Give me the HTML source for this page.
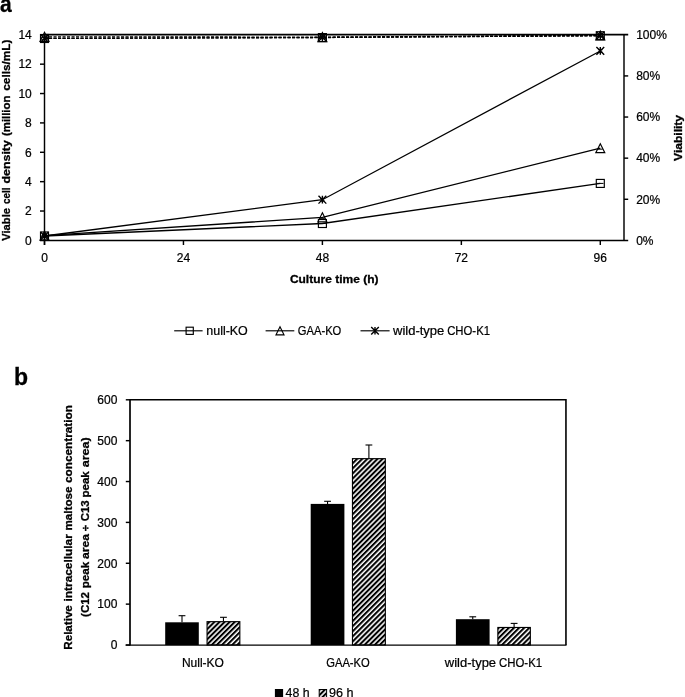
<!DOCTYPE html>
<html lang="en"><head><meta charset="utf-8"><title>Figure</title>
<style>html,body{margin:0;padding:0;background:#fff}body{width:685px;height:697px;overflow:hidden}svg{display:block}text{font-family:"Liberation Sans", "DejaVu Sans", sans-serif;fill:#000;stroke:#000;stroke-width:.22px}text[font-weight=bold]{stroke-width:.3px}</style></head><body>
<svg width="685" height="697" viewBox="0 0 685 697">
<rect width="685" height="697" fill="#fff"/>
<defs><pattern id="h" width="3.6" height="3.6" patternUnits="userSpaceOnUse" patternTransform="rotate(-45)"><rect width="3.6" height="3.6" fill="#fff"/><rect width="3.6" height="2.05" fill="#000"/></pattern></defs>
<text x="0.10" y="12.45" font-size="23" text-anchor="start" font-weight="bold" textLength="11.70" lengthAdjust="spacingAndGlyphs" >a</text>
<text x="14.00" y="384.60" font-size="23" text-anchor="start" font-weight="bold" >b</text>
<line x1="44.50" y1="34.20" x2="44.50" y2="245.00" stroke="#000" stroke-width="1.45" />
<line x1="624.00" y1="34.20" x2="624.00" y2="241.00" stroke="#000" stroke-width="1.45" />
<line x1="40.00" y1="240.40" x2="628.20" y2="240.40" stroke="#000" stroke-width="1.45" />
<line x1="44.50" y1="34.60" x2="628.20" y2="34.60" stroke="#000" stroke-width="1.6" />
<text x="31.80" y="244.70" font-size="12" text-anchor="end" font-weight="normal" >0</text>
<line x1="40.00" y1="211.03" x2="44.50" y2="211.03" stroke="#000" stroke-width="1.45" />
<text x="31.80" y="215.33" font-size="12" text-anchor="end" font-weight="normal" >2</text>
<line x1="40.00" y1="181.66" x2="44.50" y2="181.66" stroke="#000" stroke-width="1.45" />
<text x="31.80" y="185.96" font-size="12" text-anchor="end" font-weight="normal" >4</text>
<line x1="40.00" y1="152.29" x2="44.50" y2="152.29" stroke="#000" stroke-width="1.45" />
<text x="31.80" y="156.59" font-size="12" text-anchor="end" font-weight="normal" >6</text>
<line x1="40.00" y1="122.91" x2="44.50" y2="122.91" stroke="#000" stroke-width="1.45" />
<text x="31.80" y="127.21" font-size="12" text-anchor="end" font-weight="normal" >8</text>
<line x1="40.00" y1="93.54" x2="44.50" y2="93.54" stroke="#000" stroke-width="1.45" />
<text x="31.80" y="97.84" font-size="12" text-anchor="end" font-weight="normal" >10</text>
<line x1="40.00" y1="64.17" x2="44.50" y2="64.17" stroke="#000" stroke-width="1.45" />
<text x="31.80" y="68.47" font-size="12" text-anchor="end" font-weight="normal" >12</text>
<text x="31.80" y="39.10" font-size="12" text-anchor="end" font-weight="normal" >14</text>
<line x1="40.00" y1="34.80" x2="44.50" y2="34.80" stroke="#000" stroke-width="1.45" />
<text x="636.20" y="244.70" font-size="12" text-anchor="start" font-weight="normal" >0%</text>
<line x1="624.00" y1="199.28" x2="628.20" y2="199.28" stroke="#000" stroke-width="1.45" />
<text x="636.20" y="203.58" font-size="12" text-anchor="start" font-weight="normal" >20%</text>
<line x1="624.00" y1="158.16" x2="628.20" y2="158.16" stroke="#000" stroke-width="1.45" />
<text x="636.20" y="162.46" font-size="12" text-anchor="start" font-weight="normal" >40%</text>
<line x1="624.00" y1="117.04" x2="628.20" y2="117.04" stroke="#000" stroke-width="1.45" />
<text x="636.20" y="121.34" font-size="12" text-anchor="start" font-weight="normal" >60%</text>
<line x1="624.00" y1="75.92" x2="628.20" y2="75.92" stroke="#000" stroke-width="1.45" />
<text x="636.20" y="80.22" font-size="12" text-anchor="start" font-weight="normal" >80%</text>
<text x="636.20" y="39.10" font-size="12" text-anchor="start" font-weight="normal" >100%</text>
<line x1="44.50" y1="240.40" x2="44.50" y2="245.00" stroke="#000" stroke-width="1.45" />
<text x="44.50" y="262.20" font-size="12" text-anchor="middle" font-weight="normal" >0</text>
<line x1="183.45" y1="240.40" x2="183.45" y2="245.00" stroke="#000" stroke-width="1.45" />
<text x="183.45" y="262.20" font-size="12" text-anchor="middle" font-weight="normal" >24</text>
<line x1="322.40" y1="240.40" x2="322.40" y2="245.00" stroke="#000" stroke-width="1.45" />
<text x="322.40" y="262.20" font-size="12" text-anchor="middle" font-weight="normal" >48</text>
<line x1="461.35" y1="240.40" x2="461.35" y2="245.00" stroke="#000" stroke-width="1.45" />
<text x="461.35" y="262.20" font-size="12" text-anchor="middle" font-weight="normal" >72</text>
<line x1="600.30" y1="240.40" x2="600.30" y2="245.00" stroke="#000" stroke-width="1.45" />
<text x="600.30" y="262.20" font-size="12" text-anchor="middle" font-weight="normal" >96</text>
<text x="334.20" y="283.00" font-size="11.4" text-anchor="middle" font-weight="bold" textLength="88.60" lengthAdjust="spacingAndGlyphs" >Culture time (h)</text>
<text transform="translate(10.00 240.40) rotate(-90)" y="0" font-size="11.4" font-weight="bold"><tspan x="-0.35" textLength="32.70" lengthAdjust="spacingAndGlyphs">Viable</tspan> <tspan x="36.35" textLength="16.50" lengthAdjust="spacingAndGlyphs">cell</tspan> <tspan x="56.95" textLength="43.30" lengthAdjust="spacingAndGlyphs">density</tspan> <tspan x="104.45" textLength="40.30" lengthAdjust="spacingAndGlyphs">(million</tspan> <tspan x="149.65" textLength="51.30" lengthAdjust="spacingAndGlyphs">cells/mL)</tspan></text>
<text x="682.20" y="137.90" font-size="11.4" text-anchor="middle" font-weight="bold" textLength="46.00" lengthAdjust="spacingAndGlyphs" transform="rotate(-90 682.20 137.90)" >Viability</text>
<polyline points="44.50,38.50 322.40,37.58 600.30,35.73" fill="none" stroke="#000" stroke-width="1.25" stroke-dasharray="3.1 1.4"/>
<polyline points="44.50,36.86 322.40,37.06 600.30,35.42" fill="none" stroke="#000" stroke-width="1.25" stroke-dasharray="3.1 1.4"/>
<polyline points="44.50,38.40 322.40,37.47 600.30,35.62" fill="none" stroke="#000" stroke-width="1.25" stroke-dasharray="3.1 1.4"/>
<rect x="40.50" y="34.50" width="8.0" height="8.0" fill="none" stroke="#000" stroke-width="1.15"/>
<path d="M44.50 32.36 L49.00 41.36 L40.00 41.36 Z" fill="none" stroke="#000" stroke-width="1.15" stroke-linejoin="miter"/>
<path d="M40.60 34.50 L48.40 42.30 M40.60 42.30 L48.40 34.50 M44.50 34.50 L44.50 42.30" fill="none" stroke="#000" stroke-width="1.4"/>
<line x1="41.30" y1="39.30" x2="47.70" y2="39.30" stroke="#000" stroke-width="1.0" />
<line x1="41.30" y1="37.60" x2="47.70" y2="37.60" stroke="#000" stroke-width="1.0" />
<rect x="318.40" y="33.58" width="8.0" height="8.0" fill="none" stroke="#000" stroke-width="1.15"/>
<path d="M322.40 32.56 L326.90 41.56 L317.90 41.56 Z" fill="none" stroke="#000" stroke-width="1.15" stroke-linejoin="miter"/>
<path d="M318.50 33.57 L326.30 41.37 M318.50 41.37 L326.30 33.57 M322.40 33.57 L322.40 41.37" fill="none" stroke="#000" stroke-width="1.4"/>
<line x1="319.20" y1="38.38" x2="325.60" y2="38.38" stroke="#000" stroke-width="1.0" />
<line x1="319.20" y1="36.67" x2="325.60" y2="36.67" stroke="#000" stroke-width="1.0" />
<rect x="596.30" y="31.73" width="8.0" height="8.0" fill="none" stroke="#000" stroke-width="1.15"/>
<path d="M600.30 30.92 L604.80 39.92 L595.80 39.92 Z" fill="none" stroke="#000" stroke-width="1.15" stroke-linejoin="miter"/>
<path d="M596.40 31.72 L604.20 39.52 M596.40 39.52 L604.20 31.72 M600.30 31.72 L600.30 39.52" fill="none" stroke="#000" stroke-width="1.4"/>
<line x1="597.10" y1="36.53" x2="603.50" y2="36.53" stroke="#000" stroke-width="1.0" />
<line x1="597.10" y1="34.82" x2="603.50" y2="34.82" stroke="#000" stroke-width="1.0" />
<polyline points="44.50,235.99 322.40,223.51 600.30,183.42" fill="none" stroke="#000" stroke-width="1.3"/>
<polyline points="44.50,235.70 322.40,217.34 600.30,148.17" fill="none" stroke="#000" stroke-width="1.3"/>
<polyline points="44.50,235.99 322.40,199.72 600.30,50.95" fill="none" stroke="#000" stroke-width="1.3"/>
<rect x="40.50" y="231.99" width="8.0" height="8.0" fill="none" stroke="#000" stroke-width="1.15"/>
<line x1="41.30" y1="235.99" x2="47.70" y2="235.99" stroke="#000" stroke-width="1.0" />
<path d="M44.50 231.20 L49.00 240.20 L40.00 240.20 Z" fill="none" stroke="#000" stroke-width="1.15" stroke-linejoin="miter"/>
<line x1="42.10" y1="236.70" x2="46.90" y2="236.70" stroke="#000" stroke-width="1.0" />
<path d="M40.60 232.09 L48.40 239.89 M40.60 239.89 L48.40 232.09 M44.50 232.09 L44.50 239.89" fill="none" stroke="#000" stroke-width="1.4"/>
<line x1="42.30" y1="234.79" x2="46.70" y2="234.79" stroke="#000" stroke-width="1.0" />
<line x1="42.30" y1="237.19" x2="46.70" y2="237.19" stroke="#000" stroke-width="1.0" />
<rect x="318.40" y="219.51" width="8.0" height="8.0" fill="none" stroke="#000" stroke-width="1.15"/>
<line x1="319.20" y1="223.51" x2="325.60" y2="223.51" stroke="#000" stroke-width="1.0" />
<path d="M322.40 212.84 L326.90 221.84 L317.90 221.84 Z" fill="none" stroke="#000" stroke-width="1.15" stroke-linejoin="miter"/>
<line x1="320.00" y1="218.34" x2="324.80" y2="218.34" stroke="#000" stroke-width="1.0" />
<path d="M318.50 195.82 L326.30 203.62 M318.50 203.62 L326.30 195.82 M322.40 195.82 L322.40 203.62" fill="none" stroke="#000" stroke-width="1.4"/>
<line x1="320.20" y1="198.52" x2="324.60" y2="198.52" stroke="#000" stroke-width="1.0" />
<line x1="320.20" y1="200.92" x2="324.60" y2="200.92" stroke="#000" stroke-width="1.0" />
<rect x="596.30" y="179.42" width="8.0" height="8.0" fill="none" stroke="#000" stroke-width="1.15"/>
<line x1="597.10" y1="183.42" x2="603.50" y2="183.42" stroke="#000" stroke-width="1.0" />
<path d="M600.30 143.67 L604.80 152.67 L595.80 152.67 Z" fill="none" stroke="#000" stroke-width="1.15" stroke-linejoin="miter"/>
<line x1="597.90" y1="149.17" x2="602.70" y2="149.17" stroke="#000" stroke-width="1.0" />
<path d="M596.40 47.05 L604.20 54.85 M596.40 54.85 L604.20 47.05 M600.30 47.05 L600.30 54.85" fill="none" stroke="#000" stroke-width="1.4"/>
<line x1="598.10" y1="49.75" x2="602.50" y2="49.75" stroke="#000" stroke-width="1.0" />
<line x1="598.10" y1="52.15" x2="602.50" y2="52.15" stroke="#000" stroke-width="1.0" />
<line x1="174.20" y1="330.80" x2="202.60" y2="330.80" stroke="#000" stroke-width="1.15" />
<rect x="186.10" y="327.20" width="7.2" height="7.2" fill="none" stroke="#000" stroke-width="1.15"/>
<text x="206.30" y="335.00" font-size="12" text-anchor="start" font-weight="normal" textLength="41.50" lengthAdjust="spacingAndGlyphs" >null-KO</text>
<line x1="265.60" y1="330.80" x2="294.30" y2="330.80" stroke="#000" stroke-width="1.15" />
<path d="M280.00 326.80 L284.00 334.80 L276.00 334.80 Z" fill="none" stroke="#000" stroke-width="1.15" stroke-linejoin="miter"/>
<text x="297.80" y="335.00" font-size="12" text-anchor="start" font-weight="normal" textLength="43.50" lengthAdjust="spacingAndGlyphs" >GAA-KO</text>
<line x1="360.50" y1="330.80" x2="389.60" y2="330.80" stroke="#000" stroke-width="1.15" />
<path d="M371.20 327.00 L378.80 334.60 M371.20 334.60 L378.80 327.00 M375.00 327.00 L375.00 334.60" fill="none" stroke="#000" stroke-width="1.4"/>
<text y="335.00" font-size="12" font-weight="normal"><tspan x="393.00" textLength="51.30" lengthAdjust="spacingAndGlyphs">wild-type</tspan> <tspan x="447.20" textLength="42.80" lengthAdjust="spacingAndGlyphs">CHO-K1</tspan></text>
<path d="M130.0 399.8 H565.95 V645.0" fill="none" stroke="#000" stroke-width="1.6"/>
<line x1="130.00" y1="399.20" x2="130.00" y2="645.60" stroke="#000" stroke-width="1.7" />
<line x1="125.80" y1="645.00" x2="130.00" y2="645.00" stroke="#000" stroke-width="1.45" />
<text x="117.40" y="649.30" font-size="12" text-anchor="end" font-weight="normal" >0</text>
<line x1="125.80" y1="604.13" x2="130.00" y2="604.13" stroke="#000" stroke-width="1.45" />
<text x="117.40" y="608.43" font-size="12" text-anchor="end" font-weight="normal" >100</text>
<line x1="125.80" y1="563.27" x2="130.00" y2="563.27" stroke="#000" stroke-width="1.45" />
<text x="117.40" y="567.57" font-size="12" text-anchor="end" font-weight="normal" >200</text>
<line x1="125.80" y1="522.40" x2="130.00" y2="522.40" stroke="#000" stroke-width="1.45" />
<text x="117.40" y="526.70" font-size="12" text-anchor="end" font-weight="normal" >300</text>
<line x1="125.80" y1="481.53" x2="130.00" y2="481.53" stroke="#000" stroke-width="1.45" />
<text x="117.40" y="485.83" font-size="12" text-anchor="end" font-weight="normal" >400</text>
<line x1="125.80" y1="440.67" x2="130.00" y2="440.67" stroke="#000" stroke-width="1.45" />
<text x="117.40" y="444.97" font-size="12" text-anchor="end" font-weight="normal" >500</text>
<line x1="125.80" y1="399.80" x2="130.00" y2="399.80" stroke="#000" stroke-width="1.45" />
<text x="117.40" y="404.10" font-size="12" text-anchor="end" font-weight="normal" >600</text>
<line x1="182.00" y1="615.70" x2="182.00" y2="622.30" stroke="#000" stroke-width="1.1" />
<line x1="178.60" y1="615.70" x2="185.40" y2="615.70" stroke="#000" stroke-width="1.1" />
<rect x="165.20" y="622.30" width="33.60" height="22.70" fill="#000"/>
<line x1="223.45" y1="617.30" x2="223.45" y2="621.10" stroke="#000" stroke-width="1.1" />
<line x1="220.05" y1="617.30" x2="226.85" y2="617.30" stroke="#000" stroke-width="1.1" />
<rect x="207.05" y="621.65" width="32.80" height="23.35" fill="url(#h)" stroke="#000" stroke-width="1.1"/>
<line x1="327.55" y1="501.30" x2="327.55" y2="503.90" stroke="#000" stroke-width="1.1" />
<line x1="324.15" y1="501.30" x2="330.95" y2="501.30" stroke="#000" stroke-width="1.1" />
<rect x="310.70" y="503.90" width="33.70" height="141.10" fill="#000"/>
<line x1="368.90" y1="445.00" x2="368.90" y2="458.10" stroke="#000" stroke-width="1.1" />
<line x1="365.50" y1="445.00" x2="372.30" y2="445.00" stroke="#000" stroke-width="1.1" />
<rect x="352.45" y="458.65" width="32.90" height="186.35" fill="url(#h)" stroke="#000" stroke-width="1.1"/>
<line x1="472.75" y1="616.80" x2="472.75" y2="619.20" stroke="#000" stroke-width="1.1" />
<line x1="469.35" y1="616.80" x2="476.15" y2="616.80" stroke="#000" stroke-width="1.1" />
<rect x="455.90" y="619.20" width="33.70" height="25.80" fill="#000"/>
<line x1="514.10" y1="623.40" x2="514.10" y2="626.90" stroke="#000" stroke-width="1.1" />
<line x1="510.70" y1="623.40" x2="517.50" y2="623.40" stroke="#000" stroke-width="1.1" />
<rect x="497.85" y="627.45" width="32.50" height="17.55" fill="url(#h)" stroke="#000" stroke-width="1.1"/>
<line x1="125.60" y1="645.10" x2="566.55" y2="645.10" stroke="#000" stroke-width="1.3" />
<text x="202.90" y="666.60" font-size="12" text-anchor="middle" font-weight="normal" textLength="42.00" lengthAdjust="spacingAndGlyphs" >Null-KO</text>
<text x="348.00" y="666.60" font-size="12" text-anchor="middle" font-weight="normal" textLength="43.50" lengthAdjust="spacingAndGlyphs" >GAA-KO</text>
<text y="666.60" font-size="12" font-weight="normal"><tspan x="444.80" textLength="51.30" lengthAdjust="spacingAndGlyphs">wild-type</tspan> <tspan x="499.00" textLength="43.10" lengthAdjust="spacingAndGlyphs">CHO-K1</tspan></text>
<text transform="translate(72.25 649.30) rotate(-90)" y="0" font-size="11.6" font-weight="bold"><tspan x="-0.35" textLength="44.40" lengthAdjust="spacingAndGlyphs">Relative</tspan> <tspan x="47.85" textLength="67.30" lengthAdjust="spacingAndGlyphs">intracellular</tspan> <tspan x="118.85" textLength="43.90" lengthAdjust="spacingAndGlyphs">maltose</tspan> <tspan x="166.35" textLength="77.80" lengthAdjust="spacingAndGlyphs">concentration</tspan></text>
<text transform="translate(88.70 616.60) rotate(-90)" y="0" font-size="11.6" font-weight="bold"><tspan x="-0.35" textLength="24.90" lengthAdjust="spacingAndGlyphs">(C12</tspan> <tspan x="28.35" textLength="26.40" lengthAdjust="spacingAndGlyphs">peak</tspan> <tspan x="57.65" textLength="24.80" lengthAdjust="spacingAndGlyphs">area</tspan> <tspan x="85.25">÷</tspan> <tspan x="95.25" textLength="21.00" lengthAdjust="spacingAndGlyphs">C13</tspan> <tspan x="119.05" textLength="26.30" lengthAdjust="spacingAndGlyphs">peak</tspan> <tspan x="149.25" textLength="30.00" lengthAdjust="spacingAndGlyphs">area)</tspan></text>
<rect x="274.9" y="689" width="8.2" height="9" fill="#000"/>
<text x="285.60" y="697.40" font-size="12" text-anchor="start" font-weight="normal" textLength="24.00" lengthAdjust="spacingAndGlyphs" >48 h</text>
<rect x="319.2" y="689.5" width="7.4" height="9" fill="url(#h)" stroke="#000" stroke-width="1"/>
<text x="329.10" y="697.40" font-size="12" text-anchor="start" font-weight="normal" textLength="24.50" lengthAdjust="spacingAndGlyphs" >96 h</text>
</svg></body></html>
